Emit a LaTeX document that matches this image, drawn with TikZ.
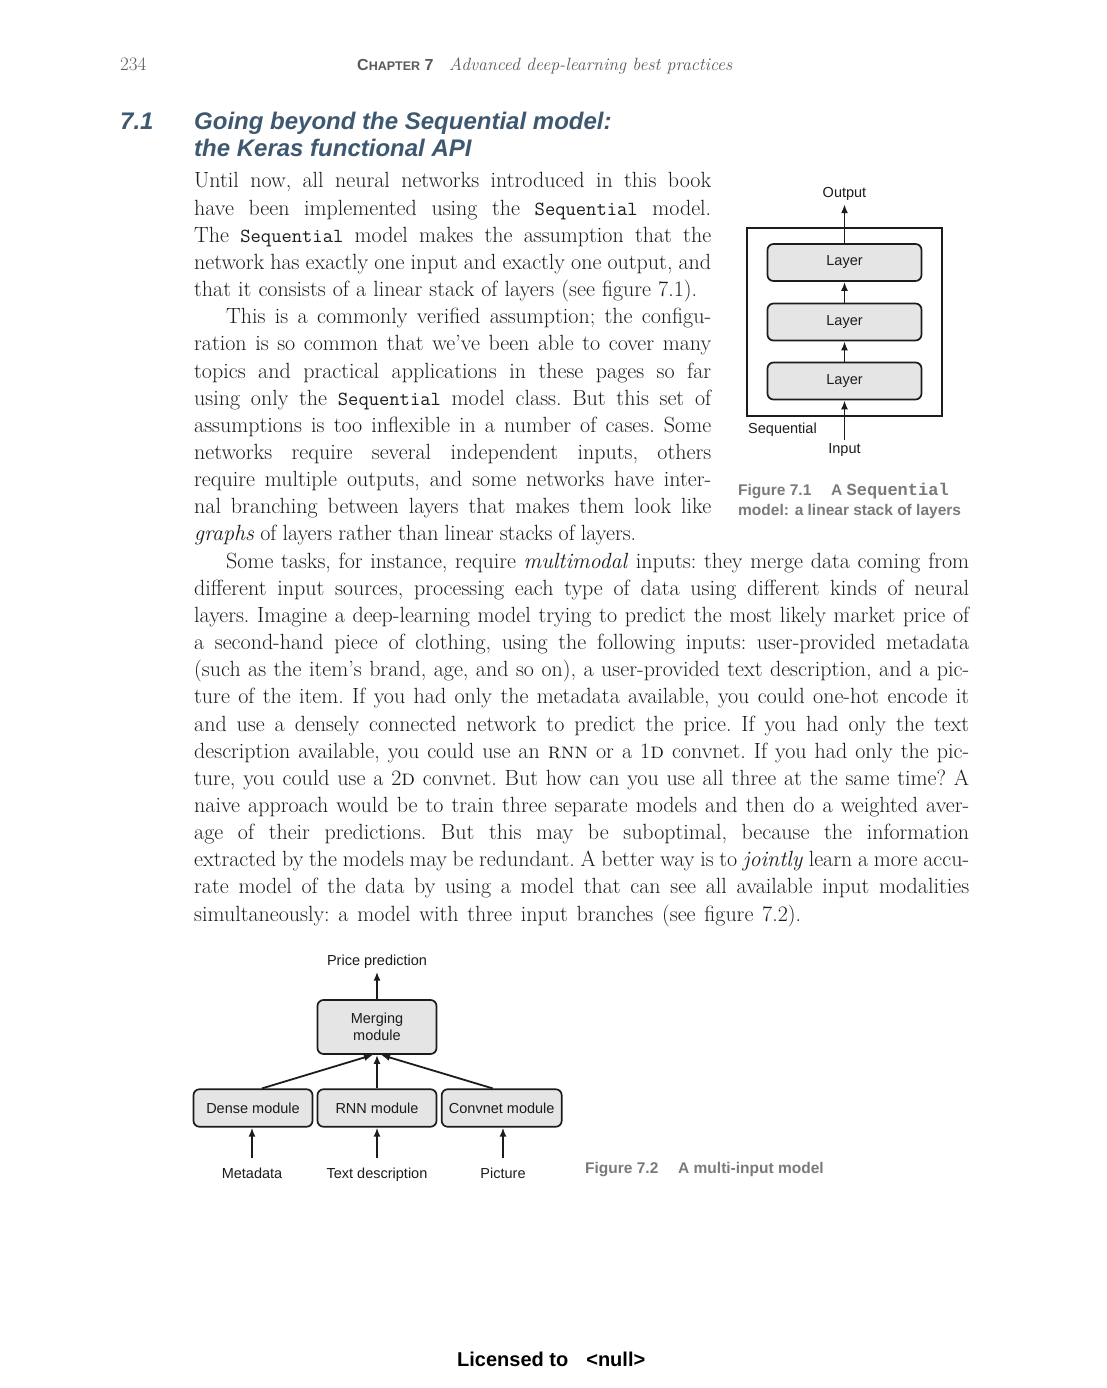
\documentclass[tikz,border=0pt]{standalone}
\usepackage{fontspec}
\usetikzlibrary{arrows.meta,calc}
\newfontfamily\arialf{Liberation Sans}
\newfontfamily\monof{Liberation Mono}
\definecolor{headblue}{RGB}{62,88,112}
\definecolor{capgray}{RGB}{122,122,122}
\definecolor{boxfill}{RGB}{229,229,229}
\definecolor{inkc}{RGB}{28,28,28}
\definecolor{hdrgray}{RGB}{90,90,90}
\newcommand\bodyfont{\fontsize{22}{27}\selectfont\frenchspacing}
\newcommand\tcode[1]{{\ttfamily\fontsize{20}{27}\selectfont #1}}
\newcommand\TL[5]{\node[bodyline] (#1) at (#2,#3) {\hbox to #4pt{#5}};}
\begin{document}
\begin{tikzpicture}[x=1pt,y=-1pt,
  lbl/.style={font=\arialf\fontsize{14.5}{16}\selectfont, text=inkc, inner sep=3pt},
  box/.style={draw=inkc, line width=1.7pt, fill=boxfill, rounded corners=6pt,
    font=\arialf\fontsize{14.5}{17}\selectfont, text=inkc, align=center, inner sep=0pt},
  arr/.style={draw=inkc, line width=1.8pt, -{Latex[length=9pt,width=7pt]}},
  bodyline/.style={anchor=base west, inner sep=0pt, font=\bodyfont, text=inkc},
  capt/.style={anchor=base west, inner sep=0pt, text=capgray,
    font=\arialf\bfseries\fontsize{15.5}{18}\selectfont}]
\path[use as bounding box, fill=white] (0,0) rectangle (1106,1388);

% header
\node[anchor=base west, inner sep=0, text=hdrgray, font=\fontsize{19}{22}\selectfont] (pnum) at (120,71) {234};
\node[anchor=base west, inner sep=0, text=hdrgray, font=\arialf\bfseries] (chap) at (357,71)
  {{\fontsize{16}{18}\selectfont C}{\fontsize{12.5}{18}\selectfont HAPTER}{\fontsize{16}{18}\selectfont\ 7}};
\node[anchor=base west, inner sep=0, text=hdrgray, font=\itshape\fontsize{17.8}{22}\selectfont] (ctitle) at (449,71)
  {Advanced deep-learning best practices};

% heading
\node[anchor=base west, inner sep=0, text=headblue, font=\arialf\bfseries\itshape\fontsize{24}{28}\selectfont] (secnum) at (120,130) {7.1};
\node[anchor=base west, inner sep=0, text=headblue, font=\arialf\bfseries\itshape\fontsize{24}{28}\selectfont] (sec1) at (194,130) {Going beyond the Sequential model:};
\node[anchor=base west, inner sep=0, text=headblue, font=\arialf\bfseries\itshape\fontsize{24}{28}\selectfont] (sec2) at (194,156.5) {the Keras functional API};

% body text, narrow column
\TL{l1}{194}{188}{517}{Until now, all neural networks introduced in this book}
\TL{l2}{194}{215.15}{517}{have been implemented using the \tcode{Sequential} model.}
\TL{l3}{194}{242.3}{517}{The \tcode{Sequential} model makes the assumption that the}
\TL{l4}{194}{269.45}{517}{network has exactly one input and exactly one output, and}
\TL{l5}{194}{296.6}{503}{that it consists of a linear stack of layers (see figure 7.1).}
\TL{l6}{226}{323.75}{485}{This is a commonly verified assumption; the configu-}
\TL{l7}{194}{350.9}{517}{ration is so common that we’ve been able to cover many}
\TL{l8}{194}{378.05}{517}{topics and practical applications in these pages so far}
\TL{l9}{194}{405.2}{517}{using only the \tcode{Sequential} model class. But this set of}
\TL{l10}{194}{432.35}{517}{assumptions is too inflexible in a number of cases. Some}
\TL{l11}{194}{459.5}{517}{networks require several independent inputs, others}
\TL{l12}{194}{486.65}{517}{require multiple outputs, and some networks have inter-}
\TL{l13}{194}{513.8}{517}{nal branching between layers that makes them look like}
\TL{l14}{194}{540.95}{442}{\textit{graphs} of layers rather than linear stacks of layers.}
% full column
\TL{l15}{226}{568.1}{743}{Some tasks, for instance, require \textit{multimodal} inputs: they merge data coming from}
\TL{l16}{194}{595.25}{775}{different input sources, processing each type of data using different kinds of neural}
\TL{l17}{194}{622.4}{775}{layers. Imagine a deep-learning model trying to predict the most likely market price of}
\TL{l18}{194}{649.55}{775}{a second-hand piece of clothing, using the following inputs: user-provided metadata}
\TL{l19}{194}{676.7}{775}{(such as the item’s brand, age, and so on), a user-provided text description, and a pic-}
\TL{l20}{194}{703.85}{775}{ture of the item. If you had only the metadata available, you could one-hot encode it}
\TL{l21}{194}{731}{775}{and use a densely connected network to predict the price. If you had only the text}
\TL{l22}{194}{758.15}{775}{description available, you could use an \textsc{rnn} or a 1\textsc{d} convnet. If you had only the pic-}
\TL{l23}{194}{785.3}{775}{ture, you could use a 2\textsc{d} convnet. But how can you use all three at the same time? A}
\TL{l24}{194}{812.45}{775}{naive approach would be to train three separate models and then do a weighted aver-}
\TL{l25}{194}{839.6}{775}{age of their predictions. But this may be suboptimal, because the information}
\TL{l26}{194}{866.75}{775}{extracted by the models may be redundant. A better way is to \textit{jointly} learn a more accu-}
\TL{l27}{194}{893.9}{775}{rate model of the data by using a model that can see all available input modalities}
\TL{l28}{194}{921.05}{607}{simultaneously: a model with three input branches (see figure 7.2).}

% Figure 7.1
\node[draw=inkc, line width=1.6pt, minimum width=195pt, minimum height=188pt, inner sep=0pt] (seqbox) at (844.5,322) {};
\node[box, minimum width=154pt, minimum height=37pt] (lay3) at (844.5,262.5) {Layer};
\node[box, minimum width=154pt, minimum height=37pt] (lay2) at (844.5,322) {Layer};
\node[box, minimum width=154pt, minimum height=37pt] (lay1) at (844.5,381) {Layer};
\node[lbl, anchor=base] (outlbl) at (844.5,198) {Output};
\node[lbl, anchor=base] (inlbl) at (844.5,453) {Input};
\node[lbl, anchor=base west, inner sep=0pt] (seqlbl) at (748,433) {Sequential};
\draw[arr] (inlbl.north) -- (lay1.south);
\draw[arr] (lay1.north) -- (lay2.south);
\draw[arr] (lay2.north) -- (lay3.south);
\draw[arr] (lay3.north) -- (outlbl.south);
\node[capt] (cap1a) at (738,495) {Figure 7.1};
\node[capt] (cap1b) at (831,495) {A {\monof\bfseries\fontsize{17}{18}\selectfont Sequential}};
\node[capt] (cap1c) at (738,515.5) {model: a linear stack of layers};

% Figure 7.2
\node[box, minimum width=119pt, minimum height=54pt] (merge) at (377,1027) {Merging\\module};
\node[box, minimum width=119pt, minimum height=37.5pt] (dense) at (253,1108) {Dense module};
\node[box, minimum width=119pt, minimum height=37.5pt] (rnn) at (377,1108) {RNN module};
\node[box, minimum width=120pt, minimum height=37.5pt] (conv) at (501.7,1108) {Convnet module};
\node[lbl, anchor=base] (price) at (377,965.5) {Price prediction};
\node[lbl, anchor=base] (meta) at (252,1178) {Metadata};
\node[lbl, anchor=base] (textd) at (377,1178) {Text description};
\node[lbl, anchor=base] (pic) at (503,1178) {Picture};
\draw[arr, shorten <=6pt] (meta.north) -- (meta.north |- dense.south);
\draw[arr, shorten <=6pt] (textd.north) -- (rnn.south);
\draw[arr, shorten <=6pt] (pic.north) -- (pic.north |- conv.south);
\draw[arr] ([xshift=9pt]dense.north) -- ([xshift=-4pt]merge.south);
\draw[arr] (rnn.north) -- (merge.south);
\draw[arr] ([xshift=-9pt]conv.north) -- ([xshift=4pt]merge.south);
\draw[arr] (merge.north) -- (price.south);
\node[capt] (cap2a) at (585,1173) {Figure 7.2};
\node[capt] (cap2b) at (678,1173) {A multi-input model};

% footer
\node[anchor=base west, inner sep=0pt, text=black, font=\arialf\bfseries\fontsize{20}{24}\selectfont] (lic) at (457,1366) {Licensed to\hspace{18pt}<null>};
\end{tikzpicture}
\end{document}
